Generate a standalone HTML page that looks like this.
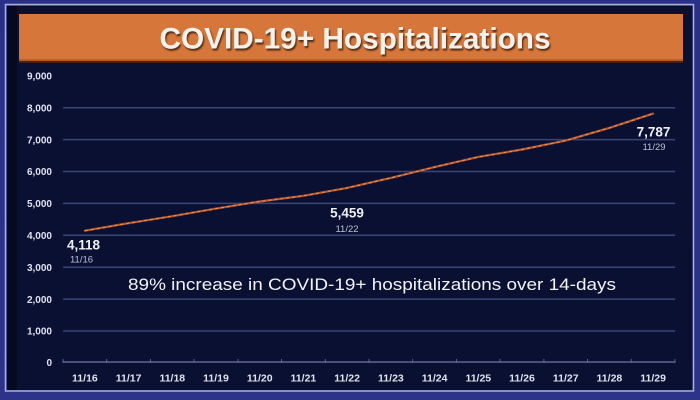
<!DOCTYPE html>
<html>
<head>
<meta charset="utf-8">
<style>
  html,body{margin:0;padding:0;background:#2b2f86;}
  body{width:700px;height:400px;overflow:hidden;}
  svg{display:block;}
  text{font-family:"Liberation Sans", sans-serif;}
</style>
</head>
<body>
<svg width="700" height="400" viewBox="0 0 700 400" xmlns="http://www.w3.org/2000/svg">
  <defs>
    <linearGradient id="bg" x1="0" y1="0" x2="0" y2="1">
      <stop offset="0" stop-color="#2a2f88"/>
      <stop offset="1" stop-color="#2c3389"/>
    </linearGradient>
    <filter id="sh" x="-5%" y="-20%" width="110%" height="150%">
      <feDropShadow dx="1.2" dy="2" stdDeviation="0.8" flood-color="#3a1a08" flood-opacity="0.85"/>
    </filter>
  </defs>
  <!-- outer -->
  <rect x="0" y="0" width="700" height="400" fill="url(#bg)"/>
  <!-- light frame line -->
  <rect x="5.5" y="4.5" width="688" height="386.5" fill="none" stroke="#aab0d8" stroke-width="1.5"/>
  <!-- dark panel -->
  <rect x="7" y="6" width="685.5" height="384" fill="#0a1032"/>
  <rect x="7" y="6" width="10" height="384" fill="#050a22"/>
  <!-- orange title bar -->
  <rect x="19" y="15" width="664" height="48" fill="#4a1e08"/>
  <rect x="19" y="14" width="664" height="47" fill="#d6763a"/>
  <rect x="19" y="59" width="664" height="2" fill="#b55f2c"/>
  <text x="355" y="48.5" font-size="30" font-weight="bold" fill="#f6f1ea" text-anchor="middle" textLength="391" lengthAdjust="spacingAndGlyphs" filter="url(#sh)">COVID-19+ Hospitalizations</text>

  <!-- gridlines -->
  <g stroke="#3a4677" stroke-width="1.5">
    <line x1="63" y1="107.7" x2="675" y2="107.7"/>
    <line x1="63" y1="139.6" x2="675" y2="139.6"/>
    <line x1="63" y1="171.5" x2="675" y2="171.5"/>
    <line x1="63" y1="203.4" x2="675" y2="203.4"/>
    <line x1="63" y1="235.3" x2="675" y2="235.3"/>
    <line x1="63" y1="267.2" x2="675" y2="267.2"/>
    <line x1="63" y1="299.1" x2="675" y2="299.1"/>
    <line x1="63" y1="331" x2="675" y2="331"/>
  </g>
  <!-- axis -->
  <line x1="63" y1="362" x2="675" y2="362" stroke="#5c6894" stroke-width="1.5"/>
  <g stroke="#5c6894" stroke-width="1">
    <line x1="63" y1="359" x2="63" y2="363"/>
    <line x1="106.7" y1="359" x2="106.7" y2="363"/>
    <line x1="150.4" y1="359" x2="150.4" y2="363"/>
    <line x1="194.1" y1="359" x2="194.1" y2="363"/>
    <line x1="237.9" y1="359" x2="237.9" y2="363"/>
    <line x1="281.6" y1="359" x2="281.6" y2="363"/>
    <line x1="325.3" y1="359" x2="325.3" y2="363"/>
    <line x1="369" y1="359" x2="369" y2="363"/>
    <line x1="412.7" y1="359" x2="412.7" y2="363"/>
    <line x1="456.4" y1="359" x2="456.4" y2="363"/>
    <line x1="500.1" y1="359" x2="500.1" y2="363"/>
    <line x1="543.9" y1="359" x2="543.9" y2="363"/>
    <line x1="587.6" y1="359" x2="587.6" y2="363"/>
    <line x1="631.3" y1="359" x2="631.3" y2="363"/>
    <line x1="675" y1="359" x2="675" y2="363"/>
  </g>

  <!-- y labels -->
  <g font-size="10" font-weight="bold" fill="#dfe2ee" text-anchor="end">
    <text x="52" y="79.5">9,000</text>
    <text x="52" y="111.5">8,000</text>
    <text x="52" y="143.3">7,000</text>
    <text x="52" y="175.2">6,000</text>
    <text x="52" y="207.1">5,000</text>
    <text x="52" y="239">4,000</text>
    <text x="52" y="270.9">3,000</text>
    <text x="52" y="302.8">2,000</text>
    <text x="52" y="334.7">1,000</text>
    <text x="52" y="366">0</text>
  </g>

  <!-- x labels -->
  <g font-size="10.5" font-weight="bold" fill="#dfe2ee" text-anchor="middle">
    <text x="84.9" y="381.5">11/16</text>
    <text x="128.6" y="381.5">11/17</text>
    <text x="172.3" y="381.5">11/18</text>
    <text x="216" y="381.5">11/19</text>
    <text x="259.7" y="381.5">11/20</text>
    <text x="303.4" y="381.5">11/21</text>
    <text x="347.1" y="381.5">11/22</text>
    <text x="390.9" y="381.5">11/23</text>
    <text x="434.6" y="381.5">11/24</text>
    <text x="478.3" y="381.5">11/25</text>
    <text x="522" y="381.5">11/26</text>
    <text x="565.7" y="381.5">11/27</text>
    <text x="609.4" y="381.5">11/28</text>
    <text x="653.1" y="381.5">11/29</text>
  </g>

  <!-- data line -->
  <polyline fill="none" stroke="#b8582a" stroke-width="2.2" stroke-linejoin="round" stroke-linecap="round"
    points="84.9,230.7 128.6,223.2 172.3,216.2 216,208.6 259.7,201.5 303.4,195.8 347.1,187.9 390.9,177.9 434.6,167.1 478.3,156.9 522,149.5 565.7,140.6 609.4,127.9 653.1,113.6"/>
  <polyline fill="none" stroke="#e89a62" stroke-width="0.9" stroke-dasharray="3 3" stroke-linejoin="round"
    points="84.9,230.7 128.6,223.2 172.3,216.2 216,208.6 259.7,201.5 303.4,195.8 347.1,187.9 390.9,177.9 434.6,167.1 478.3,156.9 522,149.5 565.7,140.6 609.4,127.9 653.1,113.6"/>

  <!-- annotations -->
  <g fill="#eef0f6" font-weight="bold" font-size="13.5" text-anchor="middle">
    <text x="83.5" y="249.5">4,118</text>
    <text x="347" y="217.7">5,459</text>
    <text x="653.5" y="136.7">7,787</text>
  </g>
  <g fill="#b9c0d6" font-size="9.5" text-anchor="middle">
    <text x="81.5" y="262.5">11/16</text>
    <text x="347" y="232">11/22</text>
    <text x="654" y="150">11/29</text>
  </g>

  <text x="372" y="290" font-size="16.5" fill="#f2f3f8" text-anchor="middle" textLength="488" lengthAdjust="spacingAndGlyphs">89% increase in COVID-19+ hospitalizations over 14-days</text>
</svg>
</body>
</html>
